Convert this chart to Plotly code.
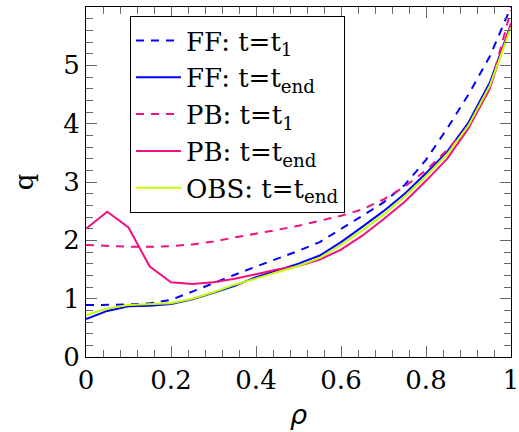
import plotly.graph_objects as go

rho = [0.0, 0.05, 0.10, 0.15, 0.20, 0.25, 0.30, 0.35, 0.40, 0.45, 0.50,
       0.55, 0.60, 0.65, 0.70, 0.75, 0.80, 0.85, 0.90, 0.95, 1.00]

ff_t1 = [0.89, 0.89, 0.90, 0.92, 0.98, 1.12, 1.27, 1.41, 1.55, 1.68, 1.82,
         1.97, 2.19, 2.42, 2.65, 2.95, 3.38, 3.92, 4.50, 5.15, 6.00]
ff_end = [0.65, 0.79, 0.87, 0.88, 0.91, 0.99, 1.10, 1.22, 1.37, 1.49, 1.60,
          1.74, 1.97, 2.23, 2.50, 2.80, 3.15, 3.52, 4.02, 4.70, 5.70]
pb_t1 = [1.92, 1.90, 1.89, 1.89, 1.90, 1.93, 1.98, 2.05, 2.11, 2.18, 2.25,
         2.33, 2.42, 2.53, 2.70, 2.92, 3.20, 3.55, 3.95, 4.60, 5.95]
pb_end = [2.20, 2.49, 2.22, 1.55, 1.28, 1.25, 1.28, 1.34, 1.42, 1.50, 1.56,
          1.67, 1.84, 2.08, 2.36, 2.66, 3.02, 3.40, 3.92, 4.60, 5.72]
obs_end = [0.72, 0.83, 0.89, 0.90, 0.92, 1.00, 1.11, 1.24, 1.35, 1.45, 1.56,
           1.70, 1.92, 2.17, 2.44, 2.75, 3.10, 3.48, 3.97, 4.65, 5.65]

labels = ["FF: t=t<sub>1</sub>", "FF: t=t<sub>end</sub>", "PB: t=t<sub>1</sub>",
          "PB: t=t<sub>end</sub>", "OBS: t=t<sub>end</sub>"]
ytick_vals = [0, 1, 2, 3, 4, 5]
xtick_vals = [0, 0.2, 0.4, 0.6, 0.8, 1]
xtick_text = ["0", "0.2", "0.4", "0.6", "0.8", "1"]

BLUE = "#0000ff"
PINK = "#f0107f"
LIME = "#c4ff00"
DASH = "8px,7px"
SERIF = "DejaVu Serif, serif"
FS = 26

fig = go.Figure()
series = [
    (ff_t1, BLUE, DASH),
    (ff_end, BLUE, "solid"),
    (pb_t1, PINK, DASH),
    (pb_end, PINK, "solid"),
    (obs_end, LIME, "solid"),
]
for (ys, col, dash), name in zip(series, labels):
    fig.add_trace(go.Scatter(x=rho, y=ys, mode="lines", name=name,
                             line=dict(color=col, width=2, dash=dash)))

axis_common = dict(
    showgrid=False, zeroline=False, showline=True, linecolor="black", linewidth=1,
    mirror="allticks", ticks="inside", ticklen=11, tickcolor="#666", tickwidth=1,
    tickfont=dict(family=SERIF, size=FS, color="black"), automargin=False,
    ticklabeloverflow="allow",
)
fig.update_xaxes(range=[0, 1], tickvals=xtick_vals, ticktext=xtick_text,
                 minor=dict(dtick=0.04, ticks="inside", ticklen=7, tickcolor="#666"),
                 title=dict(text="<i>ρ</i>", font=dict(family="DejaVu Sans", size=27, color="black"),
                            standoff=10),
                 **axis_common)
fig.update_yaxes(range=[0, 6], tickvals=ytick_vals,
                 minor=dict(dtick=0.2, ticks="inside", ticklen=7, tickcolor="#666"),
                 title=dict(text="q", font=dict(family=SERIF, size=FS, color="black"), standoff=22),
                 **axis_common)

fig.update_layout(
    width=519, height=432,
    margin=dict(l=86, r=8, t=7, b=75, autoexpand=False),
    plot_bgcolor="white", paper_bgcolor="white",
    font=dict(family=SERIF, size=FS, color="black"),
    showlegend=True,
    legend=dict(x=0.1035, y=0.974, xanchor="left", yanchor="top",
                bgcolor="white", bordercolor="black", borderwidth=1,
                font=dict(family=SERIF, size=FS, color="black"),
                itemwidth=45, tracegroupgap=0),
)

fig.write_html("out.html", config={"displayModeBar": False},
               post_script="document.body.style.margin='0';document.body.style.padding='0';")
